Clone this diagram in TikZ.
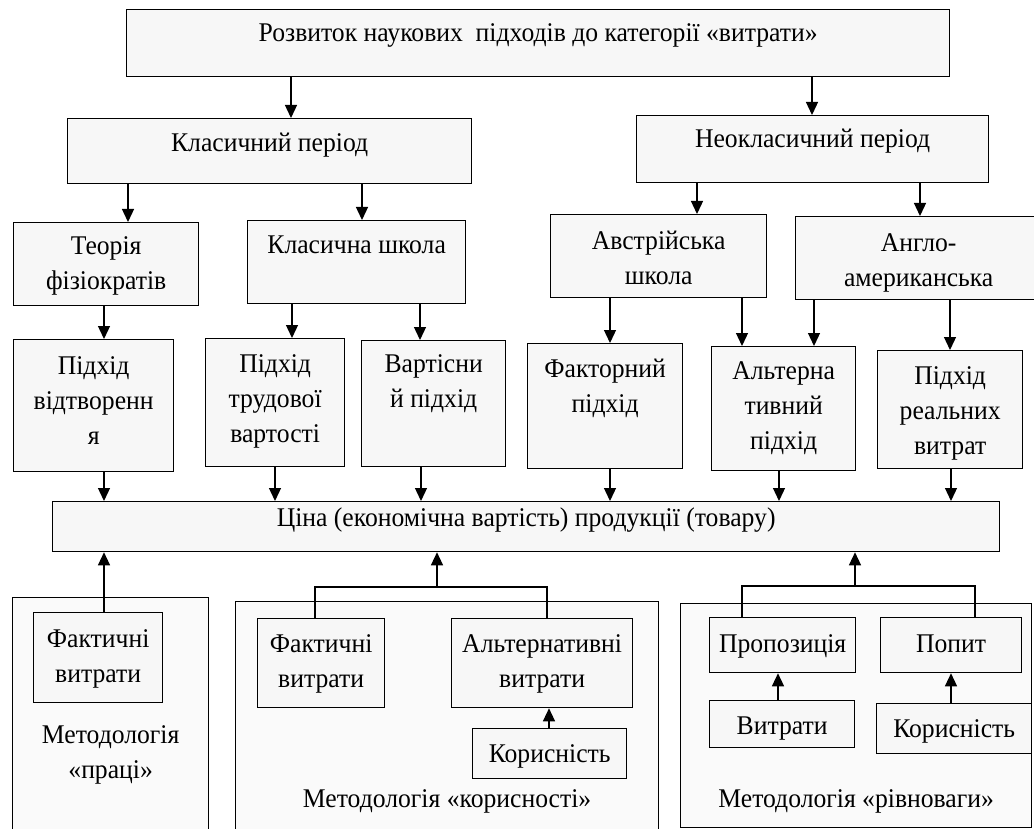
\documentclass[tikz,border=0pt]{standalone}
\usepackage{fontspec}
\setmainfont[FakeStretch=0.95]{Liberation Serif}
\usetikzlibrary{arrows.meta}

\tikzset{
  box/.style={draw, line width=1.3pt, fill=black!3, anchor=north west, inner sep=0pt},
  frame/.style={draw, line width=1.3pt, fill=black!2, anchor=north west, inner sep=0pt},
  lbl/.style={anchor=base, align=center, inner sep=0pt, yshift=-#1},
  lbl/.default=34pt,
  arr/.style={line width=1.3pt, -{Triangle[length=13pt,width=12pt]}},
  link/.style={line width=1.3pt},
}

\begin{document}
\begin{tikzpicture}[x=1pt, y=-1pt, font=\fontsize{27}{35}\selectfont]
\useasboundingbox (0,0) rectangle (1034,829);

% top levels
\node[box, minimum width=823pt, minimum height=67pt, label={[lbl=33pt]north:Розвиток наукових\ \ підходів до категорії «витрати»}] (title) at (126,9) {};
\node[box, minimum width=404pt, minimum height=65pt, label={[lbl]north:Класичний період}] (klas) at (67,118) {};
\node[box, minimum width=352pt, minimum height=67pt, label={[lbl=33pt]north:Неокласичний період}] (neo) at (636,115) {};

% schools
\node[box, minimum width=185pt, minimum height=83pt, label={[lbl=68pt]north:Теорія\\фізіократів}] (fiz) at (13,222) {};
\node[box, minimum width=218pt, minimum height=83pt, label={[lbl]north:Класична школа}] (kshk) at (247,220) {};
\node[box, minimum width=216pt, minimum height=83pt, label={[lbl=70pt]north:Австрійська\\школа}] (avst) at (550,214) {};
\node[box, minimum width=246pt, minimum height=83pt, label={[lbl=71pt]north:Англо-\\американська}] (anglo) at (795,216) {};

% approaches
\node[box, minimum width=160pt, minimum height=132pt, label={[lbl=105pt]north:Підхід\\відтворенн\\я}] (vidtv) at (13,339) {};
\node[box, minimum width=139pt, minimum height=128pt, label={[lbl=104pt]north:Підхід\\трудової\\вартості}] (trud) at (205,338) {};
\node[box, minimum width=144pt, minimum height=126pt, label={[lbl=67pt]north:Вартісни\\й підхід}] (vart) at (361,340) {};
\node[box, minimum width=155pt, minimum height=125pt, label={[lbl=69pt]north:Факторний\\підхід}] (fakt) at (527,343) {};
\node[box, minimum width=144pt, minimum height=124pt, label={[lbl=103pt]north:Альтерна\\тивний\\підхід}] (alt) at (711,346) {};
\node[box, minimum width=145pt, minimum height=118pt, label={[lbl=104pt]north:Підхід\\реальних\\витрат}] (real) at (877,350) {};

\node[box, minimum width=947pt, minimum height=50pt, label={[lbl=25pt]north:Ціна (економічна вартість) продукції (товару)}] (tsina) at (52,501) {};

% methodologies
\node[frame, minimum width=196pt, minimum height=243pt, label={[lbl=181pt]north:Методологія\\«праці»}] (pratsi) at (12,597) {};
\node[frame, minimum width=423pt, minimum height=239pt, label={[lbl=206pt]north:Методологія «корисності»}] (korysn) at (235,601) {};
\node[frame, minimum width=351pt, minimum height=224pt, label={[lbl=204pt]north:Методологія «рівноваги»}] (rivn) at (680,603) {};

\node[box, minimum width=129pt, minimum height=90pt, label={[lbl=70pt]north:Фактичні\\витрати}] (fakt1) at (33,612) {};
\node[box, minimum width=127pt, minimum height=89pt, label={[lbl=69pt]north:Фактичні\\витрати}] (fakt2) at (257,618) {};
\node[box, minimum width=181pt, minimum height=89pt, label={[lbl=69pt]north:Альтернативні\\витрати}] (alt2) at (451,618) {};
\node[box, minimum width=154pt, minimum height=50pt, label={[lbl]north:Корисність}] (kor1) at (472,728) {};
\node[box, minimum width=146pt, minimum height=55pt, label={[lbl=35pt]north:Пропозиція}] (prop) at (709,617) {};
\node[box, minimum width=141pt, minimum height=55pt, label={[lbl=35pt]north:Попит}] (popyt) at (880,617) {};
\node[box, minimum width=145pt, minimum height=47pt, label={[lbl]north:Витрати}] (vyt) at (709,700) {};
\node[box, minimum width=155pt, minimum height=50pt, label={[lbl]north:Корисність}] (kor2) at (876,703) {};

% arrows down
\draw[arr] ([xshift=224pt]klas.north west |- title.south) -- ([xshift=224pt]klas.north west);
\draw[arr] ([xshift=176pt]neo.north west |- title.south) -- ([xshift=176pt]neo.north west);
\draw[arr] ([xshift=115pt]fiz.north west |- klas.south) -- ([xshift=115pt]fiz.north west);
\draw[arr] ([xshift=115pt]kshk.north west |- klas.south) -- ([xshift=115pt]kshk.north west);
\draw[arr] ([xshift=147pt]avst.north west |- neo.south) -- ([xshift=147pt]avst.north west);
\draw[arr] ([xshift=125pt]anglo.north west |- neo.south) -- ([xshift=125pt]anglo.north west);
\draw[arr] ([xshift=91pt]vidtv.north west |- fiz.south) -- ([xshift=91pt]vidtv.north west);
\draw[arr] ([xshift=87pt]trud.north west |- kshk.south) -- ([xshift=87pt]trud.north west);
\draw[arr] ([xshift=59pt]vart.north west |- kshk.south) -- ([xshift=59pt]vart.north west);
\draw[arr] ([xshift=83pt]fakt.north west |- avst.south) -- ([xshift=83pt]fakt.north west);
\draw[arr] ([xshift=31pt]alt.north west |- avst.south) -- ([xshift=31pt]alt.north west);
\draw[arr] ([xshift=103pt]alt.north west |- anglo.south) -- ([xshift=103pt]alt.north west);
\draw[arr] ([xshift=73pt]real.north west |- anglo.south) -- ([xshift=73pt]real.north west);

\draw[arr] ([xshift=91pt]vidtv.south west) -- ([xshift=91pt]vidtv.south west |- tsina.north);
\draw[arr] ([xshift=70pt]trud.south west) -- ([xshift=70pt]trud.south west |- tsina.north);
\draw[arr] ([xshift=60pt]vart.south west) -- ([xshift=60pt]vart.south west |- tsina.north);
\draw[arr] ([xshift=83pt]fakt.south west) -- ([xshift=83pt]fakt.south west |- tsina.north);
\draw[arr] ([xshift=68pt]alt.south west) -- ([xshift=68pt]alt.south west |- tsina.north);
\draw[arr] ([xshift=74pt]real.south west) -- ([xshift=74pt]real.south west |- tsina.north);

% arrows up
\coordinate (bmid) at (437,587);
\coordinate (bright) at (855,586);
\draw[arr] ([xshift=71pt]fakt1.north west) -- ([xshift=71pt]fakt1.north west |- tsina.south);
\draw[link] ([xshift=58pt]fakt2.north west) |- (bmid) -| ([xshift=96pt]alt2.north west);
\draw[arr] (bmid) -- (bmid |- tsina.south);
\draw[link] ([xshift=33pt]prop.north west) |- (bright) -| ([xshift=95pt]popyt.north west);
\draw[arr] (bright) -- (bright |- tsina.south);
\draw[arr] ([xshift=77pt]kor1.north west) -- ([xshift=77pt]kor1.north west |- alt2.south);
\draw[arr] ([xshift=69pt]vyt.north west) -- ([xshift=69pt]vyt.north west |- prop.south);
\draw[arr] ([xshift=75pt]kor2.north west) -- ([xshift=75pt]kor2.north west |- popyt.south);
\end{tikzpicture}
\end{document}
